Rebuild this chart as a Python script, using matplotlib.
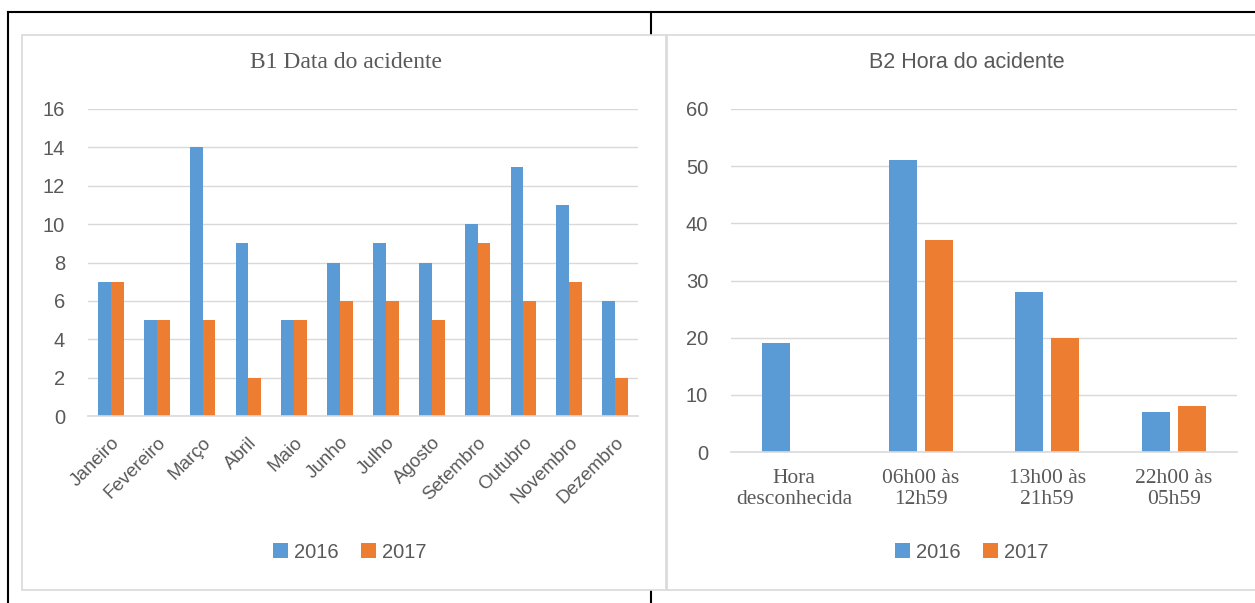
import matplotlib.pyplot as plt
import numpy as np
from matplotlib.patches import Rectangle
from matplotlib.lines import Line2D

# data
meses = ['Janeiro', 'Fevereiro', 'Março', 'Abril', 'Maio', 'Junho', 'Julho',
         'Agosto', 'Setembro', 'Outubro', 'Novembro', 'Dezembro']
data_2016 = [7, 5, 14, 9, 5, 8, 9, 8, 10, 13, 11, 6]
data_2017 = [7, 5, 5, 2, 5, 6, 6, 5, 9, 6, 7, 2]

horas = ['Hora\ndesconhecida', '06h00 às\n12h59', '13h00 às\n21h59', '22h00 às\n05h59']
hora_2016 = [19, 51, 28, 7]
hora_2017 = [0, 37, 20, 8]

anos = ['2016', '2017']
azul = '#5B9BD5'
laranja = '#ED7D31'
cinza_txt = '#595959'
cinza_grid = '#D9D9D9'
sans = ['Liberation Sans', 'DejaVu Sans']
serif = ['Liberation Serif', 'DejaVu Serif']

W, H = 1255, 603
fig = plt.figure(figsize=(W / 100, H / 100), dpi=100)


def px_axes(x0, y0, x1, y1):
    return fig.add_axes([x0 / W, 1 - y1 / H, (x1 - x0) / W, (y1 - y0) / H])


def fig_line(x0, y0, x1, y1, color='black', lw=1.5):
    fig.add_artist(Line2D([x0 / W, x1 / W], [1 - y0 / H, 1 - y1 / H],
                          transform=fig.transFigure, color=color, lw=lw, zorder=-2))


# table lines behind the charts
fig_line(8, 12, W, 12)
fig_line(8, 12, 8, H)
fig_line(651, 12, 651, H)

# chart panels
for x0, x1 in [(22, 666), (667, 1262)]:
    fig.add_artist(Rectangle((x0 / W, 1 - 590 / H), (x1 - x0) / W, (590 - 35) / H,
                             transform=fig.transFigure, facecolor='white',
                             edgecolor=cinza_grid, lw=1.2, zorder=-1))


def estilo(ax, ymax, step):
    ax.set_ylim(0, ymax)
    ax.set_yticks(np.arange(0, ymax + 1, step))
    ax.grid(axis='y', color=cinza_grid, lw=1)
    ax.set_axisbelow(True)
    for s in ['top', 'right', 'left']:
        ax.spines[s].set_visible(False)
    ax.spines['bottom'].set_color(cinza_grid)
    ax.spines['bottom'].set_linewidth(1.2)
    ax.tick_params(axis='both', length=0, colors=cinza_txt)
    ax.tick_params(axis='y', pad=16.5)
    for t in ax.get_yticklabels():
        t.set_family(sans)
        t.set_fontsize(14.5)
    ax.patch.set_alpha(0)


def legenda(ax, cx):
    ax.legend(loc='center', bbox_to_anchor=(cx / W, 1 - 552 / H),
              bbox_transform=fig.transFigure, ncol=2, frameon=False,
              prop={'family': sans, 'size': 14.5}, handlelength=0.75, handleheight=0.75,
              handletextpad=0.3, columnspacing=1.1, labelcolor=cinza_txt)


# B1
ax1 = px_axes(88, 109, 638, 416)
x = np.arange(len(meses))
w = 0.28
ax1.bar(x - w / 2, data_2016, w, color=azul, label=anos[0])
ax1.bar(x + w / 2, data_2017, w, color=laranja, label=anos[1])
ax1.set_xlim(-0.5, len(meses) - 0.5)
ax1.set_xticks(x)
ax1.set_xticklabels(meses, rotation=45, ha='right', rotation_mode='anchor',
                    family=sans, fontsize=13.5)
ax1.tick_params(axis='x', pad=13)
estilo(ax1, 16, 2)
fig.text(346 / W, 1 - 63 / H, 'B1 Data do acidente', family=serif, fontsize=17,
         color=cinza_txt, ha='center', va='center')
legenda(ax1, 350)

# B2
ax2 = px_axes(731, 109, 1237, 452)
x2 = np.arange(len(horas))
w2 = 0.22
off = 0.142
ax2.bar(x2 - off, hora_2016, w2, color=azul, label=anos[0])
ax2.bar(x2 + off, hora_2017, w2, color=laranja, label=anos[1], lw=0)
ax2.set_xlim(-0.5, len(horas) - 0.5)
ax2.set_xticks(x2)
ax2.set_xticklabels(horas, family=serif, fontsize=15.5, linespacing=1.15)
ax2.tick_params(axis='x', pad=12)
estilo(ax2, 60, 10)
fig.text(967 / W, 1 - 63 / H, 'B2 Hora do acidente', family=sans, fontsize=15.5,
         color=cinza_txt, ha='center', va='center')
legenda(ax2, 972)

fig.savefig('out.png', dpi=100)
